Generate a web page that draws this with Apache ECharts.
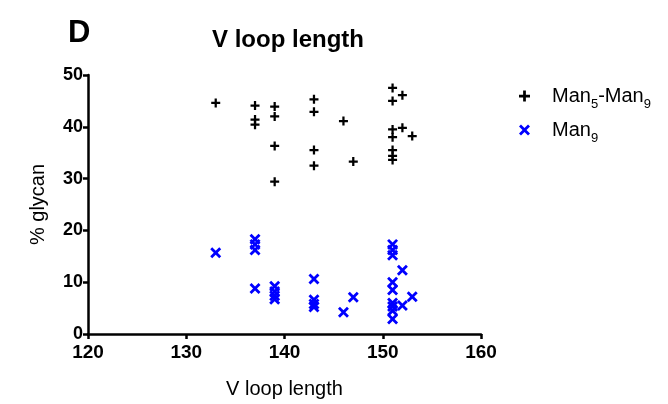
<!DOCTYPE html>
<html>
<head>
<meta charset="utf-8">
<script src="https://cdn.jsdelivr.net/npm/echarts@6/dist/echarts.min.js"></script>
<style>html,body{margin:0;padding:0;background:#fff;}#c{width:668px;height:404px;}</style>
</head>
<body>
<div id="c"></div>
<script>
// V loop length values and % glycan
var manAllX = [133, 137,137,137, 139,139,139,139, 143,143,143,143, 146, 147, 151,151,151,151,151,151,151, 152,152, 153];
var manAllY = [44.6, 44.1,41.4,40.4, 43.9,42.0,36.3,29.4, 45.3,42.9,35.5,32.5, 41.1, 33.3, 47.5,45.0,39.5,38.0,35.5,34.4,33.6, 46.1,39.8, 38.2];
var man9X = [133, 137,137,137,137, 139,139,139,139, 143,143,143,143, 146, 147, 151,151,151,151,151,151,151,151,151, 152,152, 153];
var man9Y = [15.7, 18.3,17.3,16.2,8.8, 9.2,8.2,7.4,6.7, 10.6,6.6,5.8,5.2, 4.2, 7.1, 17.3,16.2,15.2,10.0,8.5,6.0,5.3,4.5,2.9, 12.3,5.5, 7.2];
var xTicks = [120, 130, 140, 150, 160];
var yTicks = [0, 10, 20, 30, 40, 50];
var seriesNames = ['Man5-Man9', 'Man9'];

function pairs(xs, ys){ return xs.map(function(x,i){ return [x, ys[i]]; }); }

var plusPath = 'path://M3.75,0h2.5v3.75h3.75v2.5h-3.75v3.75h-2.5v-3.75h-3.75v-2.5h3.75z';
var crossPath = 'path://M0,1.8L1.8,0L5,3.2L8.2,0L10,1.8L6.8,5L10,8.2L8.2,10L5,6.8L1.8,10L0,8.2L3.2,5z';

var chart = echarts.init(document.getElementById('c'), null, {renderer:'canvas'});
var font = 'Liberation Sans, Arial, sans-serif';
chart.setOption({
  backgroundColor: '#fff',
  animation: false,
  title: [
    {text: 'D', left: 63, top: 13, textStyle: {fontFamily: font, fontSize: 31, fontWeight: 'bold', color: '#000'}},
    {text: 'V loop length', left: 283, textAlign: 'center', top: 23, textStyle: {fontFamily: font, fontSize: 24, fontWeight: 'bold', color: '#000'}}
  ],
  legend: {
    orient: 'vertical', left: 514, top: 81, itemGap: 9, itemWidth: 11, itemHeight: 11,
    data: [
      {name: seriesNames[0], icon: plusPath, itemStyle: {color: '#000', opacity: 1}},
      {name: seriesNames[1], icon: crossPath, itemStyle: {color: '#0000ff', opacity: 1}}
    ],
    formatter: function(n){
      if (n === seriesNames[0]) return '{n|Man}{s|5}{n|-Man}{s|9}';
      return '{n|Man}{s|9}';
    },
    textStyle: {
      padding: [0,0,0,17],
      rich: {
        n: {fontFamily: font, fontSize: 20, color: '#000', lineHeight: 30, verticalAlign: 'middle'},
        s: {fontFamily: font, fontSize: 13, color: '#000', lineHeight: 10, verticalAlign: 'bottom'}
      }
    }
  },
  grid: {left: 88, right: 187, top: 75, bottom: 68},
  xAxis: {
    type: 'value', min: xTicks[0], max: xTicks[xTicks.length-1], interval: 10,
    name: 'V loop length', nameLocation: 'middle', nameGap: 45,
    nameTextStyle: {fontFamily: font, fontSize: 20, color: '#000'},
    axisLine: {show: true, lineStyle: {color: '#000', width: 2.5}},
    axisTick: {show: true, length: 5, lineStyle: {color: '#000', width: 2.5}},
    axisLabel: {fontFamily: font, fontSize: 19, fontWeight: 'bold', color: '#000', margin: 9},
    splitLine: {show: false}
  },
  yAxis: {
    type: 'value', min: yTicks[0], max: yTicks[yTicks.length-1], interval: 10,
    name: '% glycan', nameLocation: 'middle', nameGap: 40, nameRotate: 90,
    nameTextStyle: {fontFamily: font, fontSize: 20, color: '#000'},
    axisLine: {show: true, lineStyle: {color: '#000', width: 2.5}},
    axisTick: {show: true, length: 5, lineStyle: {color: '#000', width: 2.5}},
    axisLabel: {fontFamily: font, fontSize: 18, fontWeight: 'bold', color: '#000', margin: 5},
    splitLine: {show: false}
  },
  series: [
    {name: seriesNames[0], type: 'scatter', data: pairs(manAllX, manAllY), symbol: plusPath, symbolSize: 9, itemStyle: {color: '#000', opacity: 1}},
    {name: seriesNames[1], type: 'scatter', data: pairs(man9X, man9Y), symbol: crossPath, symbolSize: 11, itemStyle: {color: '#0000ff', opacity: 1}}
  ]
});
</script>
</body>
</html>
